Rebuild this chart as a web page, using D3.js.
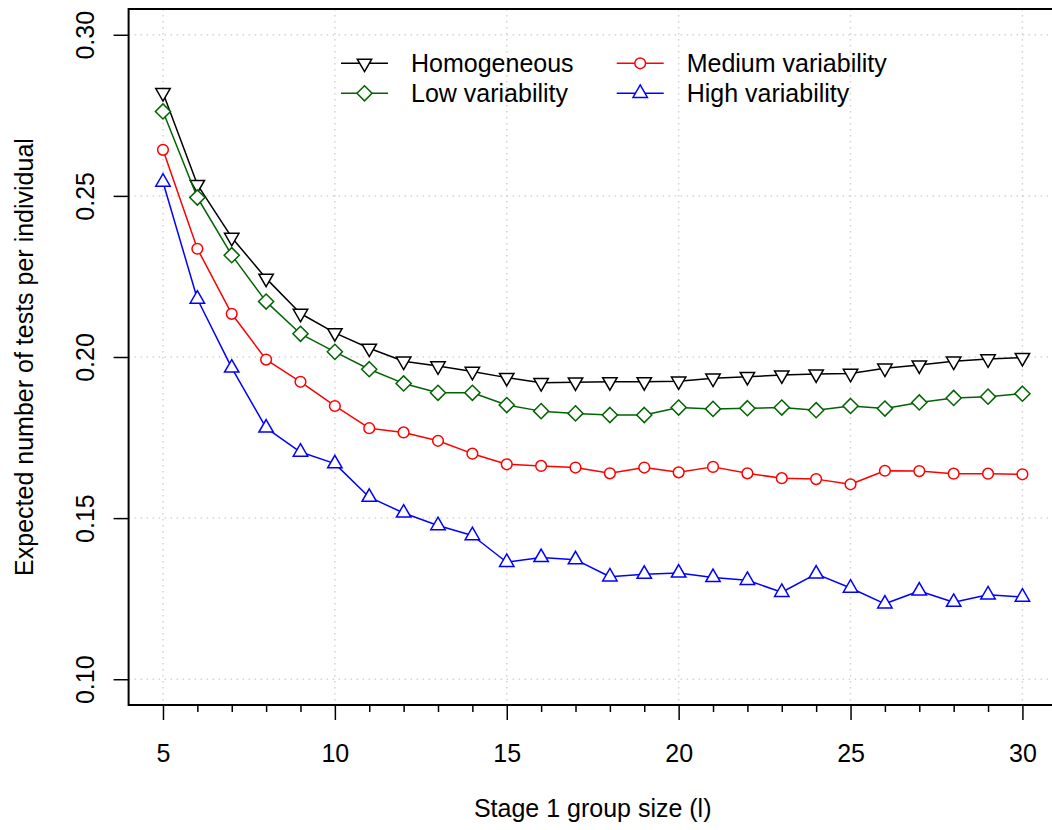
<!DOCTYPE html>
<html>
<head>
<meta charset="utf-8">
<script src="https://cdn.jsdelivr.net/npm/d3@7"></script>
<style>
  html, body { margin: 0; padding: 0; background: #ffffff; }
  svg text { font-family: "Liberation Sans", Arial, Helvetica, sans-serif; }
</style>
</head>
<body>
<svg id="chart" width="1052" height="830"></svg>
<script>
// ---------------- data ----------------
const groupSizes = [5,6,7,8,9,10,11,12,13,14,15,16,17,18,19,20,21,22,23,24,25,26,27,28,29,30];
const homogeneous = [0.2820,0.2535,0.2371,0.2244,0.2135,0.2075,0.2027,0.1987,0.1972,0.1955,0.1936,0.1920,0.1922,0.1923,0.1923,0.1925,0.1934,0.1939,0.1944,0.1947,0.1949,0.1965,0.1975,0.1987,0.1994,0.1998];
const lowVar = [0.2762,0.2495,0.2316,0.2172,0.2072,0.2016,0.1962,0.1918,0.1889,0.1889,0.1851,0.1832,0.1825,0.1820,0.1820,0.1843,0.1839,0.1841,0.1843,0.1835,0.1848,0.1840,0.1859,0.1873,0.1877,0.1886];
const mediumVar = [0.2643,0.2336,0.2134,0.1992,0.1923,0.1848,0.1779,0.1766,0.1740,0.1700,0.1667,0.1662,0.1657,0.1639,0.1657,0.1642,0.1659,0.1639,0.1624,0.1621,0.1605,0.1647,0.1646,0.1638,0.1638,0.1636];
const highVar = [0.2543,0.2180,0.1966,0.1780,0.1705,0.1669,0.1565,0.1516,0.1477,0.1446,0.1363,0.1378,0.1371,0.1318,0.1326,0.1330,0.1316,0.1307,0.1270,0.1327,0.1283,0.1234,0.1274,0.1239,0.1262,0.1255];

const seriesNames = ["Homogeneous","Low variability","Medium variability","High variability"];
const seriesColors = ["#000000","#006400","#ff0000","#0000ff"];
const seriesShapes = ["triDown","diamond","circle","triUp"];
const seriesValues = [homogeneous, lowVar, mediumVar, highVar];

const xTicks = [5,10,15,20,25,30];
const xMinorTicks = groupSizes;
const yTicks = [0.10,0.15,0.20,0.25,0.30];

const xTitle = "Stage 1 group size (l)";
const yTitle = "Expected number of tests per individual";

// ---------------- layout ----------------
const svg = d3.select("#chart");
const plot = { left: 128.6, right: 1056.8, top: 9, bottom: 705 };
const x = d3.scaleLinear().domain([4, 31]).range([plot.left, plot.right]);
const y = d3.scaleLinear().domain([0.092, 0.308]).range([plot.bottom, plot.top]);
const FONT = 25;
const LW = 1.5;

svg.append("rect").attr("width",1052).attr("height",830).attr("fill","#fff");

// grid
const grid = svg.append("g");
grid.selectAll("line.gx").data(xTicks).join("line")
  .attr("x1", d => x(d)).attr("x2", d => x(d))
  .attr("y1", plot.top).attr("y2", plot.bottom)
  .attr("stroke","#d3d3d3").attr("stroke-width",LW).attr("stroke-dasharray","1.5,4.5");
grid.selectAll("line.gy").data(yTicks).join("line")
  .attr("y1", d => y(d)).attr("y2", d => y(d))
  .attr("x1", plot.left).attr("x2", plot.right)
  .attr("stroke","#d3d3d3").attr("stroke-width",LW).attr("stroke-dasharray","1.5,4.5");

// markers
const R = 5.35;
function markerPath(shape, cx, cy) {
  const p = d3.path();
  if (shape === "circle") {
    p.moveTo(cx + R, cy); p.arc(cx, cy, R, 0, 2*Math.PI); p.closePath();
  } else if (shape === "diamond") {
    const h = Math.SQRT2 * R;
    p.moveTo(cx, cy - h); p.lineTo(cx + h, cy); p.lineTo(cx, cy + h); p.lineTo(cx - h, cy); p.closePath();
  } else {
    const r = 1.5551 * R, xc = 1.3468 * R, yc = 0.7776 * R;
    const s = shape === "triUp" ? 1 : -1;
    p.moveTo(cx, cy - s*r); p.lineTo(cx + xc, cy + s*yc); p.lineTo(cx - xc, cy + s*yc); p.closePath();
  }
  return p.toString();
}

// series
const line = d3.line().x(d => x(d[0])).y(d => y(d[1]));
seriesValues.forEach((vals, i) => {
  const pts = groupSizes.map((g, j) => [g, vals[j]]);
  const g = svg.append("g");
  g.append("path").attr("d", line(pts)).attr("fill","none")
    .attr("stroke", seriesColors[i]).attr("stroke-width", LW).attr("stroke-linejoin","round");
  g.selectAll("path.m").data(pts).join("path").attr("class","m")
    .attr("d", d => markerPath(seriesShapes[i], x(d[0]), y(d[1])))
    .attr("fill","#fff").attr("stroke", seriesColors[i]).attr("stroke-width", LW);
});

// frame
svg.append("rect").attr("x", plot.left).attr("y", plot.top)
  .attr("width", plot.right - plot.left).attr("height", plot.bottom - plot.top)
  .attr("fill","none").attr("stroke","#000").attr("stroke-width", 2);

// x axis
const xAxisG = svg.append("g").attr("transform", `translate(0,${plot.bottom})`)
  .call(d3.axisBottom(x).tickValues(xTicks).tickSize(15).tickPadding(0).tickFormat(d3.format("d")));
xAxisG.select(".domain").remove();
xAxisG.selectAll(".tick line").attr("stroke","#000").attr("stroke-width",LW);
xAxisG.selectAll(".tick text").attr("font-size",FONT).attr("fill","#000")
  .attr("font-family",'"Liberation Sans", Arial, sans-serif')
  .attr("dy",null).attr("y", 761.5 - plot.bottom);
const xMinorG = svg.append("g").attr("transform", `translate(0,${plot.bottom})`)
  .call(d3.axisBottom(x).tickValues(xMinorTicks.filter(v => xTicks.indexOf(v) < 0)).tickSize(7).tickFormat(""));
xMinorG.select(".domain").remove();
xMinorG.selectAll(".tick line").attr("stroke","#000").attr("stroke-width",LW);

// y axis
const yAxisG = svg.append("g").attr("transform", `translate(${plot.left},0)`)
  .call(d3.axisLeft(y).tickValues(yTicks).tickSize(15).tickFormat(d3.format(".2f")));
yAxisG.select(".domain").remove();
yAxisG.selectAll(".tick line").attr("stroke","#000").attr("stroke-width",LW);
yAxisG.selectAll(".tick text")
  .attr("font-size",FONT).attr("fill","#000")
  .attr("font-family",'"Liberation Sans", Arial, sans-serif')
  .attr("x",null).attr("dy",null)
  .attr("text-anchor","middle")
  .attr("transform", `translate(${93.5 - plot.left},0) rotate(-90)`);

// titles
svg.append("text").attr("x", (plot.left + plot.right) / 2).attr("y", 817)
  .attr("text-anchor","middle").attr("font-size",FONT).attr("fill","#000").text(xTitle);
svg.append("text")
  .attr("transform", `translate(32.5,${(plot.top + plot.bottom) / 2}) rotate(-90)`)
  .attr("text-anchor","middle").attr("font-size",FONT).attr("fill","#000").text(yTitle);

// legend
const legendX = [341, 616.7];
const legendY = [63.3, 93.3];
const leg = svg.append("g");
seriesNames.forEach((name, i) => {
  const col = i < 2 ? 0 : 1, row = i % 2;
  const lx = legendX[col], ly = legendY[row];
  leg.append("line").attr("x1", lx).attr("x2", lx + 47).attr("y1", ly).attr("y2", ly)
    .attr("stroke", seriesColors[i]).attr("stroke-width", LW);
  leg.append("path").attr("d", markerPath(seriesShapes[i], lx + 23.5, ly))
    .attr("fill","#fff").attr("stroke", seriesColors[i]).attr("stroke-width", LW);
  leg.append("text").attr("x", lx + 70).attr("y", ly + 9)
    .attr("font-size", FONT).attr("fill","#000").text(name);
});
</script>
</body>
</html>
